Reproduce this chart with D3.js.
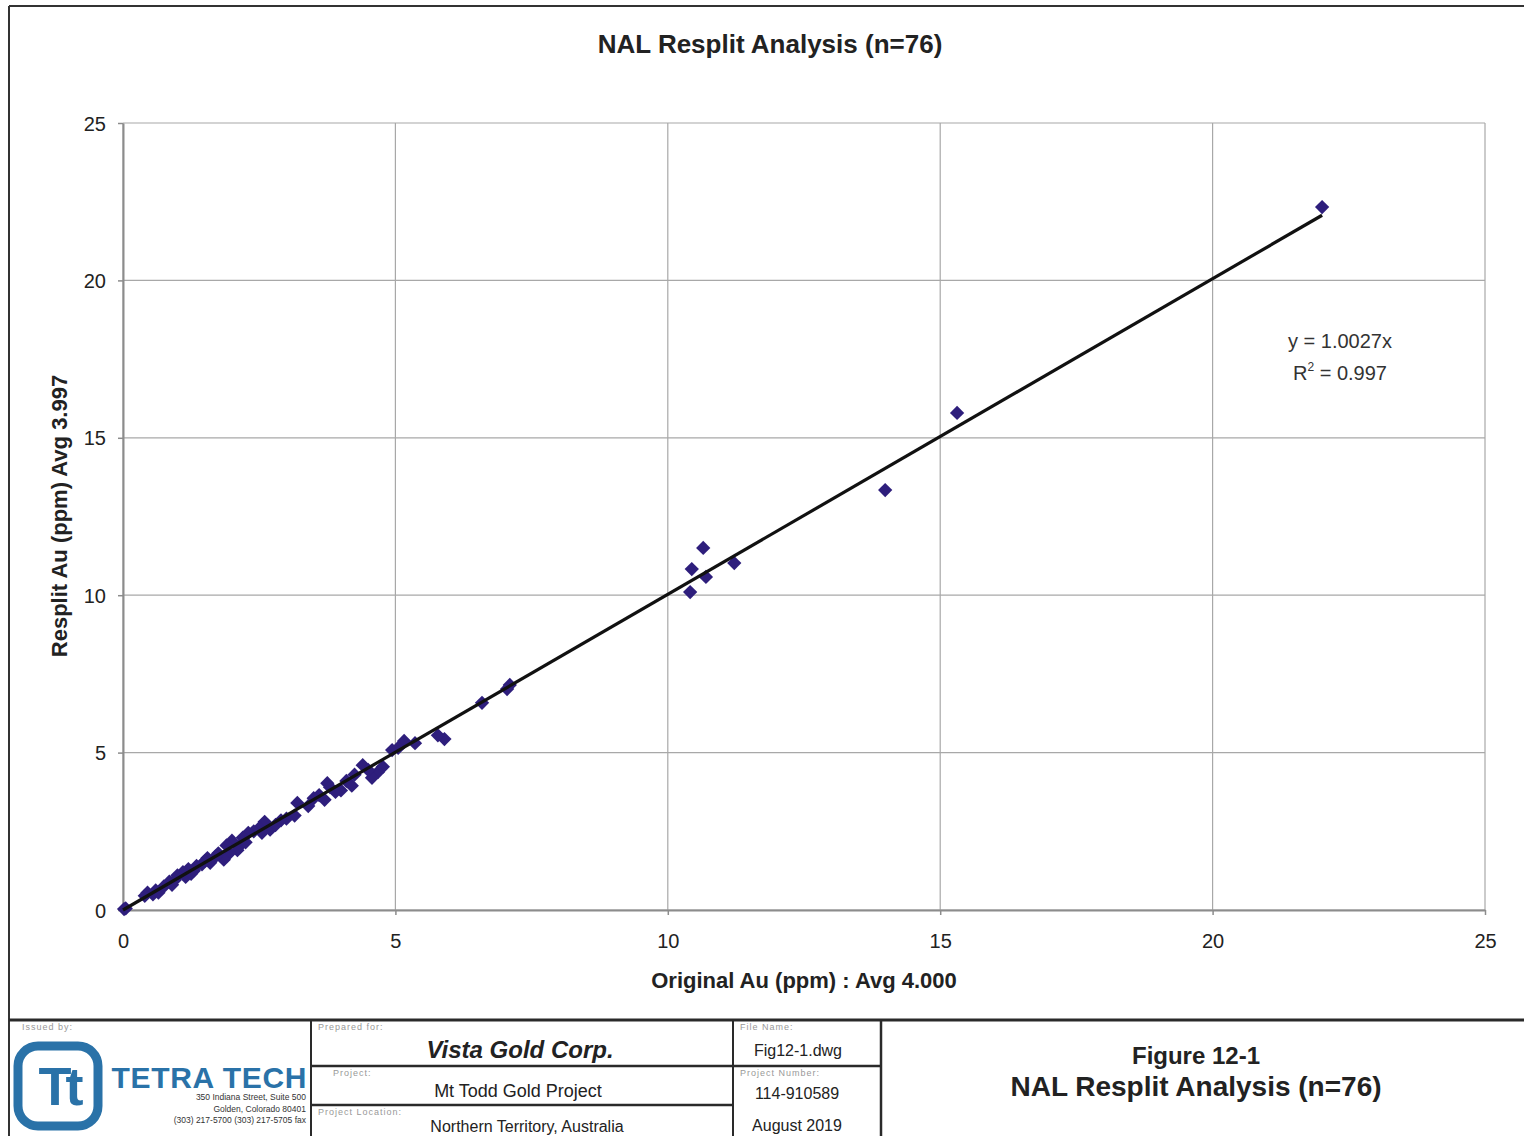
<!DOCTYPE html>
<html>
<head>
<meta charset="utf-8">
<script src="https://cdn.jsdelivr.net/npm/d3@7"></script>
<style>
  html, body { margin: 0; padding: 0; background: #fff; }
  svg { display: block; }
  text { font-family: "Liberation Sans", Arial, sans-serif; }
</style>
</head>
<body>
<svg id="chart" width="1524" height="1136"></svg>
<script>
// Original vs. resplit Au assays (ppm)
const originalAu = [
  22.01, 15.31, 13.99, 11.22, 10.65, 10.44, 10.70, 10.41, 7.10, 7.05,
  6.59, 5.90, 5.78, 5.36, 5.16, 4.94, 5.05, 4.77, 4.68, 4.57,
  4.40, 4.25, 4.10, 4.00, 3.90, 3.75, 3.80, 3.60, 3.70, 3.20,
  3.15, 3.00, 2.90, 2.70, 2.60, 2.50, 2.55, 2.40, 2.30, 2.20,
  2.15, 2.10, 2.00, 1.95, 1.90, 1.85, 1.75, 1.70, 1.60, 1.55,
  1.50, 1.45, 1.35, 1.30, 1.20, 1.15, 1.10, 1.00, 0.95, 0.85,
  0.75, 0.60, 0.55, 0.45, 0.40, 0.05, 0.02, 3.40, 3.50, 2.80,
  1.25, 0.65, 4.20, 4.50, 2.25, 0.90
];
const resplitAu = [
  22.33, 15.79, 13.34, 11.02, 11.50, 10.83, 10.58, 10.10, 7.15, 7.02,
  6.58, 5.43, 5.55, 5.30, 5.37, 5.08, 5.15, 4.55, 4.38, 4.20,
  4.60, 4.30, 4.10, 3.80, 3.75, 4.03, 3.90, 3.65, 3.50, 3.40,
  3.00, 2.90, 2.85, 2.55, 2.80, 2.60, 2.45, 2.50, 2.45, 2.30,
  2.05, 1.90, 2.20, 1.80, 2.05, 1.60, 1.80, 1.70, 1.50, 1.65,
  1.55, 1.45, 1.40, 1.25, 1.30, 1.05, 1.20, 1.10, 0.95, 0.90,
  0.75, 0.62, 0.50, 0.55, 0.45, 0.05, 0.03, 3.30, 3.55, 2.70,
  1.15, 0.55, 3.95, 4.45, 2.15, 0.80
];
const xTicks = [0, 5, 10, 15, 20, 25];
const yTicks = [0, 5, 10, 15, 20, 25];
const trendSlope = 1.0027;
const trendR2 = 0.997;

const chartTitle = "NAL Resplit Analysis (n=76)";
const xTitle = "Original Au (ppm) : Avg 4.000";
const yTitle = "Resplit Au (ppm) Avg 3.997";

const svg = d3.select("#chart");

// page frame
svg.append("line").attr("x1", 9).attr("x2", 1524).attr("y1", 6).attr("y2", 6)
  .attr("stroke", "#333").attr("stroke-width", 2);
svg.append("line").attr("x1", 9).attr("x2", 9).attr("y1", 6).attr("y2", 1136)
  .attr("stroke", "#333").attr("stroke-width", 2);

// plot area
const plot = { left: 123, right: 1485, top: 123, bottom: 910 };
const x = d3.scaleLinear().domain([0, 25]).range([plot.left, plot.right]);
const y = d3.scaleLinear().domain([0, 25]).range([plot.bottom, plot.top]);

const g = svg.append("g");

// grid
g.append("g").selectAll("line.v").data(xTicks).join("line")
  .attr("x1", d => x(d)).attr("x2", d => x(d))
  .attr("y1", plot.top).attr("y2", plot.bottom)
  .attr("stroke", "#a8a8a8").attr("stroke-width", 1.2);
g.append("g").selectAll("line.h").data(yTicks).join("line")
  .attr("x1", plot.left).attr("x2", plot.right)
  .attr("y1", d => y(d)).attr("y2", d => y(d))
  .attr("stroke", "#a8a8a8").attr("stroke-width", 1.2);

// axes
const xAxis = g.append("g").attr("transform", `translate(0,${plot.bottom})`)
  .call(d3.axisBottom(x).tickValues(xTicks).tickSizeInner(5).tickSizeOuter(0).tickPadding(19));
const yAxis = g.append("g").attr("transform", `translate(${plot.left},0)`)
  .call(d3.axisLeft(y).tickValues(yTicks).tickSizeInner(5).tickSizeOuter(0).tickPadding(12));
[xAxis, yAxis].forEach(a => {
  a.selectAll("path.domain").attr("stroke", "#8c8c8c").attr("stroke-width", 2);
  a.selectAll(".tick line").attr("stroke", "#8c8c8c").attr("stroke-width", 1.5);
  a.selectAll(".tick text").attr("font-size", 20).attr("fill", "#222")
    .attr("font-family", "Liberation Sans, Arial, sans-serif");
});
yAxis.selectAll(".tick text").attr("dy", "0.35em");

// data points (diamonds)
const pts = originalAu.map((v, i) => ({ x: v, y: resplitAu[i] }));
const diamond = d3.symbol().type(d3.symbolDiamond2).size(130);
g.append("g").selectAll("path").data(pts).join("path")
  .attr("d", diamond)
  .attr("transform", d => `translate(${x(d.x)},${y(d.y)})`)
  .attr("fill", "#2e1e7c");

// linear trend through origin
const xMax = d3.max(originalAu);
g.append("line")
  .attr("x1", x(0)).attr("y1", y(0))
  .attr("x2", x(xMax)).attr("y2", y(trendSlope * xMax))
  .attr("stroke", "#111").attr("stroke-width", 3.2);

// trend equation
g.append("text").attr("x", 1340).attr("y", 348).attr("text-anchor", "middle")
  .attr("font-size", 20).attr("fill", "#333").text(`y = ${trendSlope}x`);
const r2 = g.append("text").attr("x", 1340).attr("y", 380).attr("text-anchor", "middle")
  .attr("font-size", 20).attr("fill", "#333");
r2.append("tspan").text("R");
r2.append("tspan").attr("font-size", 12).attr("dy", -9).text("2");
r2.append("tspan").attr("dy", 9).text(` = ${trendR2}`);

// titles
svg.append("text").attr("x", 770).attr("y", 53).attr("text-anchor", "middle")
  .attr("font-size", 26).attr("font-weight", "bold").attr("fill", "#222").text(chartTitle);
svg.append("text").attr("x", 804).attr("y", 988).attr("text-anchor", "middle")
  .attr("font-size", 22).attr("font-weight", "bold").attr("fill", "#222").text(xTitle);
svg.append("text").attr("transform", "translate(67,516) rotate(-90)").attr("text-anchor", "middle")
  .attr("font-size", 22).attr("font-weight", "bold").attr("fill", "#222").text(yTitle);

// ---- title block ----
const tb = svg.append("g");
const line = (x1, y1, x2, y2, w) => tb.append("line")
  .attr("x1", x1).attr("y1", y1).attr("x2", x2).attr("y2", y2)
  .attr("stroke", "#2a2a2a").attr("stroke-width", w);
line(9, 1020, 1524, 1020, 3);
line(311, 1020, 311, 1136, 2);
line(733, 1020, 733, 1136, 2);
line(881, 1020, 881, 1136, 2.5);
line(311, 1066, 881, 1066, 2.5);
line(311, 1105, 733, 1105, 2.5);

const small = (tx, ty, s) => tb.append("text").attr("x", tx).attr("y", ty)
  .attr("font-size", 9).attr("fill", "#999").attr("letter-spacing", 1).text(s);
small(22, 1030, "Issued by:");
small(318, 1030, "Prepared for:");
small(333, 1076, "Project:");
small(318, 1115, "Project Location:");
small(740, 1030, "File Name:");
small(740, 1076, "Project Number:");

const cell = (tx, ty, s, size, opts = {}) => tb.append("text").attr("x", tx).attr("y", ty)
  .attr("text-anchor", "middle").attr("font-size", size).attr("fill", "#222")
  .attr("font-weight", opts.bold ? "bold" : "normal")
  .attr("font-style", opts.italic ? "italic" : "normal").text(s);
cell(520, 1058, "Vista Gold Corp.", 24, { bold: true, italic: true });
cell(518, 1097, "Mt Todd Gold Project", 18);
cell(527, 1132, "Northern Territory, Australia", 16);
cell(798, 1056, "Fig12-1.dwg", 16);
cell(797, 1099, "114-910589", 16);
cell(797, 1131, "August 2019", 16);
cell(1196, 1064, "Figure 12-1", 24, { bold: true });
cell(1196, 1096, "NAL Resplit Analysis (n=76)", 28, { bold: true });

// Tetra Tech logo
const blue = "#2a72a8";
tb.append("rect").attr("x", 18).attr("y", 1046).attr("width", 80).attr("height", 80)
  .attr("rx", 20).attr("fill", "none").attr("stroke", blue).attr("stroke-width", 9);
tb.append("text").attr("x", 58).attr("y", 1105).attr("text-anchor", "middle")
  .attr("font-size", 54).attr("font-weight", "bold").attr("letter-spacing", -6)
  .attr("fill", blue).text("Tt");
tb.append("text").attr("x", 209).attr("y", 1088).attr("text-anchor", "middle")
  .attr("font-size", 30).attr("font-weight", "bold").attr("fill", blue)
  .attr("textLength", 195).text("TETRA TECH");
const addr = ["350 Indiana Street, Suite 500", "Golden, Colorado 80401", "(303) 217-5700  (303) 217-5705 fax"];
tb.append("g").selectAll("text").data(addr).join("text")
  .attr("x", 306).attr("y", (d, i) => 1100 + i * 11.5)
  .attr("text-anchor", "end").attr("font-size", 8.5).attr("fill", "#333")
  .attr("font-family", "Liberation Sans Narrow, Liberation Sans, sans-serif")
  .text(d => d);
</script>
</body>
</html>
